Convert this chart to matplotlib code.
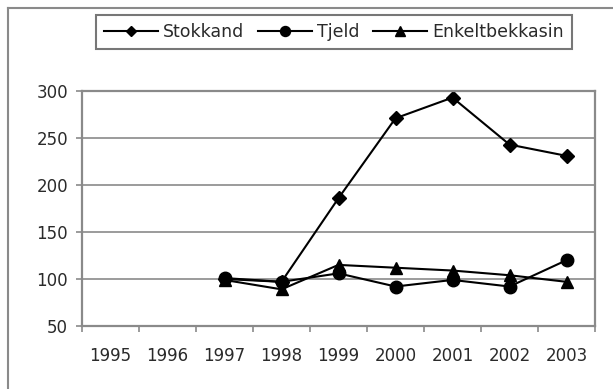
import numpy as np
import matplotlib
matplotlib.use("Agg")
import matplotlib.pyplot as plt
from matplotlib.lines import Line2D

plt.rcParams['font.family'] = ['DejaVu Sans']

years = ["1995", "1996", "1997", "1998", "1999", "2000", "2001", "2002", "2003"]
stokkand = [np.nan, np.nan, 100, 97, 186, 271, 293, 243, 231]
tjeld = [np.nan, np.nan, 101, 97, 106, 92, 99, 92, 120]
enkeltbekkasin = [np.nan, np.nan, 99, 89, 115, 112, 109, 104, 97]
y_ticks = [50, 100, 150, 200, 250, 300]

W, H = 613, 389
fig = plt.figure(figsize=(W / 100, H / 100), dpi=100)
fig.patch.set_facecolor("white")

# outer chart frame (top and left edges)
grey = "#8a8a8a"
fig.add_artist(Line2D([8 / W, 1.0], [1 - 8 / H, 1 - 8 / H], color=grey, lw=1.5,
                      transform=fig.transFigure))
fig.add_artist(Line2D([8 / W, 8 / W], [0.0, 1 - 8 / H], color=grey, lw=1.5,
                      transform=fig.transFigure))

left, right, top, bottom = 82, 595, 91, 326
ax = fig.add_axes([left / W, 1 - bottom / H, (right - left) / W, (bottom - top) / H])

x = np.arange(len(years))
ax.plot(x, stokkand, color="black", lw=1.5, marker="D", markersize=7, label="Stokkand")
ax.plot(x, tjeld, color="black", lw=1.5, marker="o", markersize=9, label="Tjeld")
ax.plot(x, enkeltbekkasin, color="black", lw=1.5, marker="^", markersize=9,
        label="Enkeltbekkasin")

ax.set_xlim(-0.5, len(years) - 0.5)
ax.set_ylim(y_ticks[0], y_ticks[-1])
ax.set_yticks(y_ticks)
ax.set_yticklabels([str(v) for v in y_ticks])
ax.yaxis.grid(True, color=grey, lw=1.2)
ax.set_axisbelow(True)

ax.set_xticks(np.arange(-0.5, len(years), 1.0))
ax.set_xticklabels([])
ax.set_xticks(x, minor=True)
ax.set_xticklabels(years, minor=True)
ax.tick_params(which="both", labelsize=12, labelcolor="#2a2a2a")
ax.tick_params(axis="x", which="minor", length=0, pad=15)
ax.tick_params(axis="x", which="major", length=4, width=1.2, color=grey, direction="out")
ax.tick_params(axis="y", length=4, width=1.2, color=grey, direction="out", pad=6)

for s in ax.spines.values():
    s.set_color(grey)
    s.set_linewidth(1.6)

handles, labels = ax.get_legend_handles_labels()
leg = fig.legend(handles, labels, loc="upper left", ncol=3,
                 bbox_to_anchor=(96 / W, 1 - 15 / H), frameon=True, fancybox=False,
                 edgecolor="#555555", fontsize=12.5, handlelength=3.1,
                 columnspacing=0.8, handletextpad=0.3, borderpad=0.45,
                 borderaxespad=0, markerscale=0.8)
leg.get_frame().set_linewidth(1.5)
for t in leg.get_texts():
    t.set_color("#2a2a2a")

fig.savefig("out.png", dpi=100, facecolor="white")
